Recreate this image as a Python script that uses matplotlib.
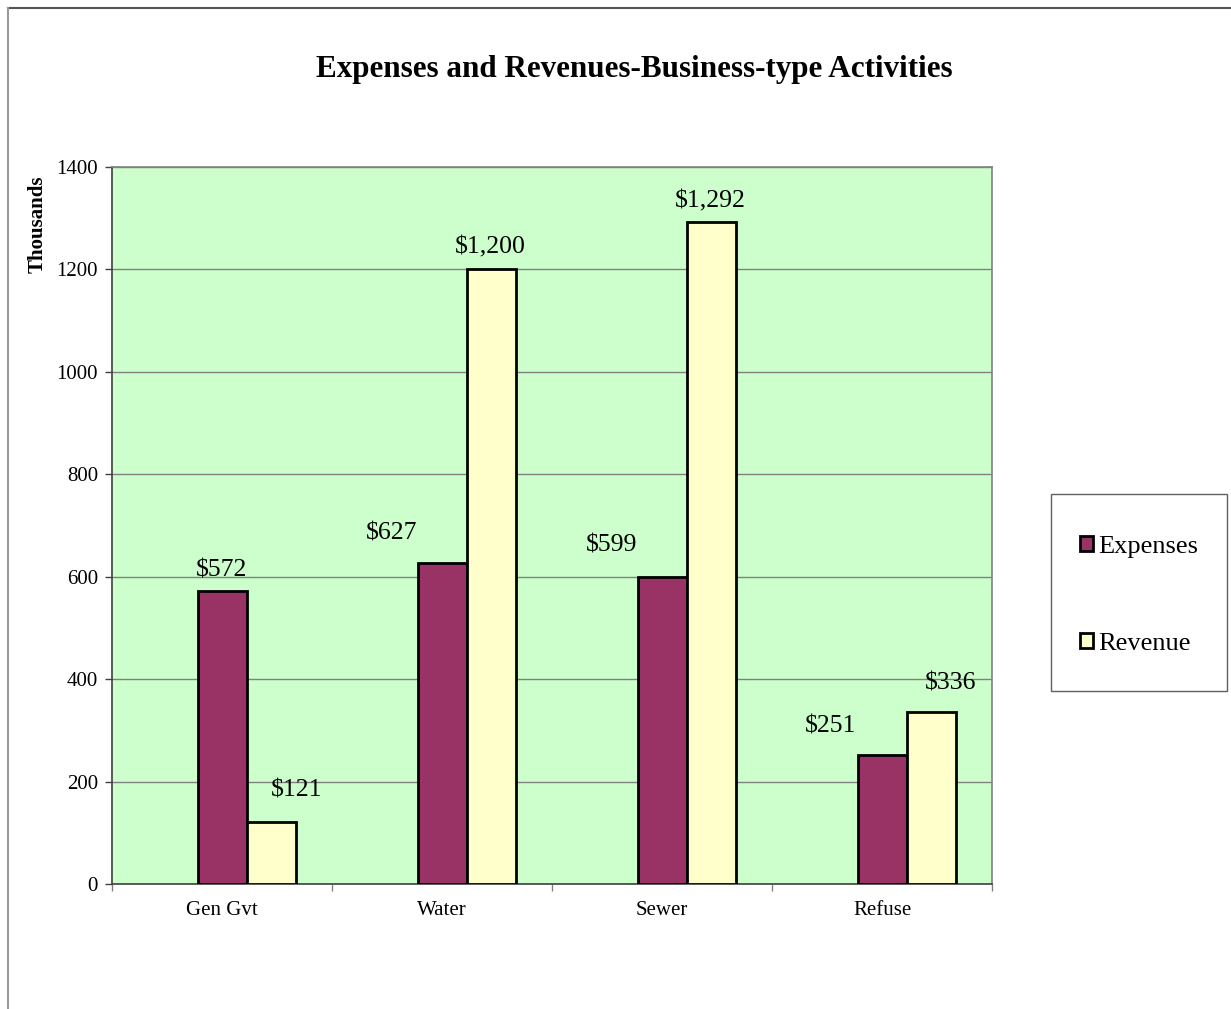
import matplotlib
matplotlib.use("Agg")
import matplotlib.pyplot as plt
from matplotlib.patches import Patch, Rectangle
from matplotlib.lines import Line2D
import numpy as np

categories = ["Gen Gvt", "Water", "Sewer", "Refuse"]
expenses = [572, 627, 599, 251]
revenue = [121, 1200, 1292, 336]
expense_labels = ["$572", "$627", "$599", "$251"]
revenue_labels = ["$121", "$1,200", "$1,292", "$336"]
yticks = [0, 200, 400, 600, 800, 1000, 1200, 1400]

# label placement (manually moved labels in the original)
exp_lab_dx = [0.0, -0.227, -0.227, -0.232]
exp_lab_dy = [41, 58, 61, 57]
rev_lab_dx = [0.341, 0.218, 0.218, 0.314]
rev_lab_dy = [62, 42, 41, 56]

plt.rcParams['font.family'] = ['Liberation Serif', 'DejaVu Serif']

fig = plt.figure(figsize=(12.31, 10.09), dpi=100)
ax = fig.add_axes([112/1231, 1-884/1009, (992-112)/1231, (884-167)/1009])

x = np.arange(len(categories))
w = 49/220
ax.set_facecolor("#CCFFCC")
ax.bar(x, expenses, width=w, color="#993366", edgecolor="black", linewidth=2, zorder=3)
ax.bar(x + w, revenue, width=w, color="#FFFFCC", edgecolor="black", linewidth=2, zorder=3)

for i in range(len(categories)):
    ax.text(x[i] + exp_lab_dx[i], expenses[i] + exp_lab_dy[i], expense_labels[i],
            ha='center', va='center', fontsize=18.5, zorder=4)
    ax.text(x[i] + rev_lab_dx[i], revenue[i] + rev_lab_dy[i], revenue_labels[i],
            ha='center', va='center', fontsize=18.5, zorder=4)

ax.set_xlim(-0.5, len(categories) - 0.5)
ax.set_ylim(0, 1400)
ax.set_yticks(yticks)
ax.set_yticklabels([str(t) for t in yticks], fontsize=15)
ax.yaxis.grid(True, color="#808080", linewidth=1, zorder=1)
ax.set_axisbelow(True)
ax.tick_params(axis='y', direction='out', length=5, width=1, color='#404040', pad=5)

ax.set_xticks(x)
ax.set_xticklabels(categories, fontsize=15)
ax.tick_params(axis='x', length=0, pad=12)
ax.set_xticks(np.arange(len(categories) + 1) - 0.5, minor=True)
ax.tick_params(axis='x', which='minor', direction='out', length=5, width=1, color='#808080')

for s in ['left', 'bottom']:
    ax.spines[s].set_color('#404040')
    ax.spines[s].set_linewidth(1.2)
for s in ['top', 'right']:
    ax.spines[s].set_color('#808080')
    ax.spines[s].set_linewidth(1.2)

fig.text(38/1231, 1-224/1009, "Thousands", rotation=90, ha='center', va='center',
         fontsize=15, fontweight='bold')

fig.text(634/1231, 1-70/1009, "Expenses and Revenues-Business-type Activities",
         ha='center', va='center', fontsize=22.4, fontweight='bold')

# legend frame
fig.add_artist(Rectangle((1051/1231, 1-691/1009), (1227-1051)/1231, (691-494)/1009,
                         transform=fig.transFigure, facecolor='white',
                         edgecolor='#606060', linewidth=1, zorder=1))
handles = [Patch(facecolor="#993366", edgecolor="black", linewidth=2),
           Patch(facecolor="#FFFFCC", edgecolor="black", linewidth=2)]
leg = fig.legend(handles, ["Expenses", "Revenue"], loc='center',
                 bbox_to_anchor=(1139/1231, 1-595.5/1009),
                 fontsize=19, frameon=False,
                 handlelength=0.5, handleheight=0.5, handletextpad=0.2,
                 labelspacing=2.86, borderpad=0, borderaxespad=0)
leg.set_zorder(2)

# outer chart border (top and left visible)
fig.add_artist(Line2D([8/1231, 1], [1-8/1009, 1-8/1009], color='#555555', linewidth=1.5, transform=fig.transFigure))
fig.add_artist(Line2D([8/1231, 8/1231], [0, 1-8/1009], color='#999999', linewidth=1.5, transform=fig.transFigure))

fig.savefig("out.png", dpi=100)
